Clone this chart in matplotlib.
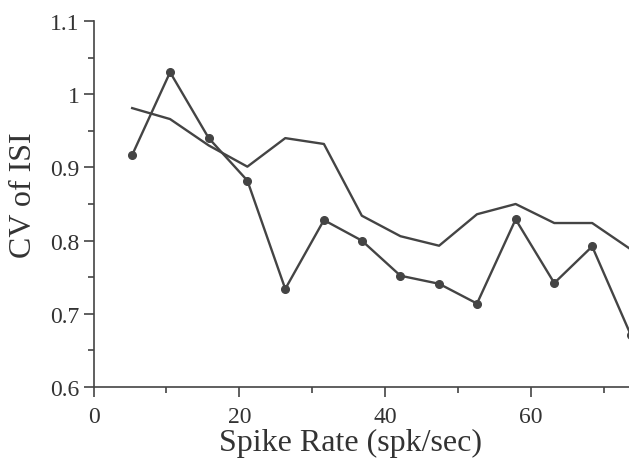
import numpy as np
import matplotlib
matplotlib.use('Agg')
import matplotlib.pyplot as plt
from matplotlib.ticker import MultipleLocator, FuncFormatter

# spike rate bins (spk/sec)
rate = [5.3, 10.5, 15.8, 21.1, 26.3, 31.6, 36.8, 42.1, 47.4, 52.6, 57.9, 63.2, 68.4, 73.7]
# measured CV of ISI (dots)
cv_data = [0.917, 1.030, 0.940, 0.882, 0.734, 0.828, 0.800, 0.752, 0.741, 0.714, 0.829, 0.742, 0.792, 0.671]
# model CV of ISI (plain line)
cv_model = [0.981, 0.966, 0.930, 0.901, 0.940, 0.932, 0.834, 0.806, 0.793, 0.836, 0.850, 0.824, 0.824, 0.788]

plt.rcParams['font.family'] = ['Liberation Serif', 'DejaVu Serif']

fig = plt.figure(figsize=(6.29, 4.64), dpi=100)
ax = fig.add_axes([0.1487, 0.1638, 0.8513, 0.7888])

col = '#444444'
ax.plot(rate, cv_model, color=col, lw=1.7, clip_on=True)
ax.plot(rate, cv_data, color=col, lw=1.7, marker='o', markersize=5.5, clip_on=True)

ax.set_xlim(0, 73.45)
ax.set_ylim(0.6, 1.1)

for s in ['top', 'right']:
    ax.spines[s].set_visible(False)
for s in ['left', 'bottom']:
    ax.spines[s].set_color(col)
    ax.spines[s].set_linewidth(1.2)

ax.xaxis.set_major_locator(MultipleLocator(20))
ax.xaxis.set_minor_locator(MultipleLocator(10))
ax.yaxis.set_major_locator(MultipleLocator(0.1))
ax.yaxis.set_minor_locator(MultipleLocator(0.05))
ax.yaxis.set_major_formatter(FuncFormatter(lambda v, p: '%g' % round(v, 2)))

ax.tick_params(which='major', direction='out', length=7, width=1.2, color=col,
               labelsize=17, labelcolor='#333333')
ax.tick_params(axis='x', which='major', pad=7)
ax.tick_params(axis='y', which='major', pad=3)
ax.tick_params(which='minor', direction='out', length=4, width=1.2, color=col)

ax.set_xlabel('Spike Rate (spk/sec)', fontsize=23, color='#333333')
ax.xaxis.set_label_coords(0.479, -0.112)
ax.set_ylabel('CV of ISI', fontsize=23, color='#333333')
ax.yaxis.set_label_coords(-0.103, 0.527)

plt.savefig('out.png', dpi=100)
